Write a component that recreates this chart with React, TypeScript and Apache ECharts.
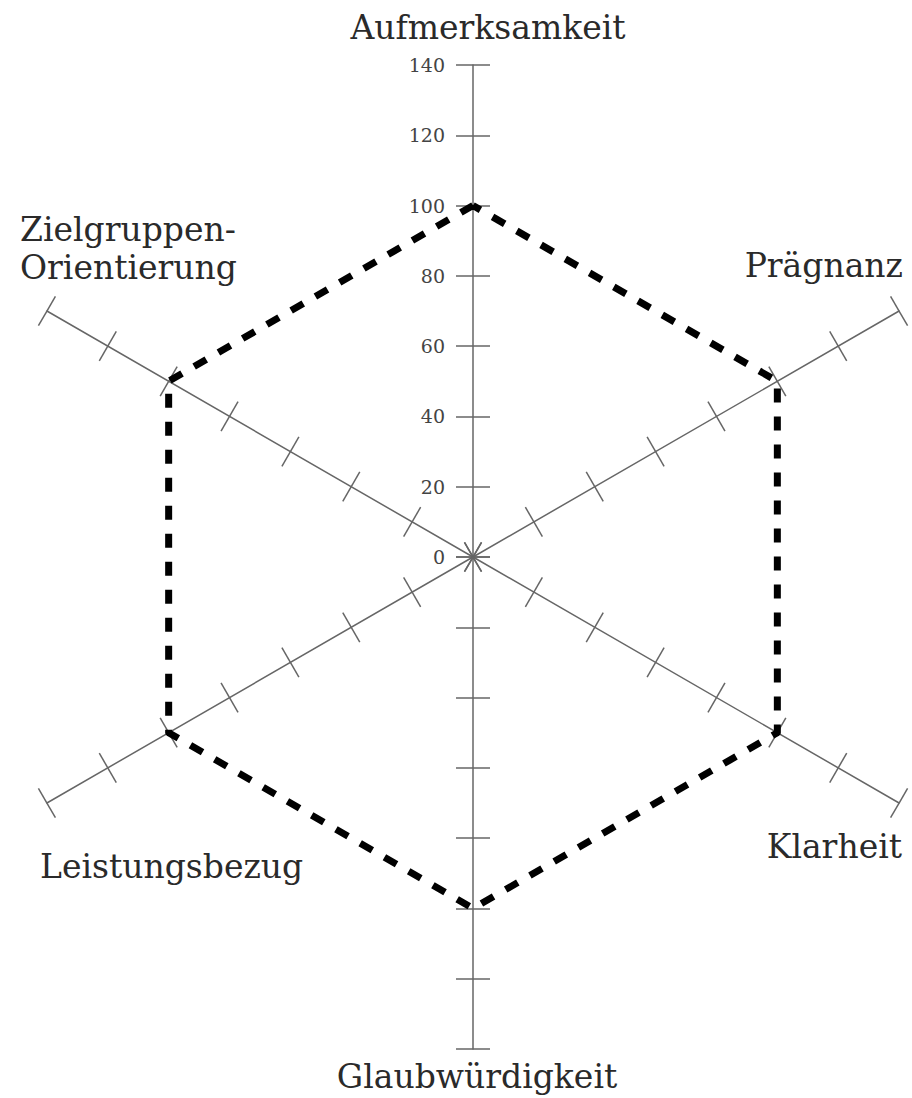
import React, { useEffect, useRef } from "react";
import * as echarts from "echarts";

// Indicators in ECharts order (starting at top, counter-clockwise)
const indicatorNames = [
  "Aufmerksamkeit",
  "Zielgruppen-\nOrientierung",
  "Leistungsbezug",
  "Glaubwürdigkeit",
  "Klarheit",
  "Prägnanz",
];
const indicatorMax = 140;
const splitCount = 7;
const profileValues = [100, 100, 100, 100, 100, 100];

// Name label layout (page px): x, y, align
const nameLayout: [number, number, string][] = [
  [488, 27, "center"],
  [20, 248, "left"],
  [40, 866, "left"],
  [477, 1076, "center"],
  [902, 846, "right"],
  [903, 265, "right"],
];

const CX = 473;
const CY = 557;
const R = 492;

export default function App() {
  const ref = useRef<HTMLDivElement>(null);
  useEffect(() => {
    if (!ref.current) return;
    const chart = echarts.init(ref.current, undefined, { renderer: "svg" });
    const axisLineStyle = { color: "#666", width: 1.5 };
    const labelStyle = {
      showMinLabel: true,
      showMaxLabel: true,
      margin: 28,
      color: "#444",
      fontFamily: "DejaVu Serif",
      fontSize: 19,
    };
    const indicatorsA = indicatorNames.map((n, i) => ({
      name: n,
      max: indicatorMax,
      min: 0,
      axisLabel: i === 0 ? { show: true, ...labelStyle } : { show: false },
    }));
    const indicatorsB = indicatorNames.map((n) => ({
      name: n,
      max: indicatorMax,
      min: 0,
    }));
    const common = {
      center: [CX, CY],
      radius: R,
      startAngle: 90,
      splitNumber: splitCount,
      shape: "polygon",
      splitLine: { show: false },
      splitArea: { show: false },
      axisName: { show: false },
    };
    chart.setOption({
      animation: false,
      backgroundColor: "#fff",
      radar: [
        {
          ...common,
          indicator: indicatorsA,
          axisLine: { show: true, lineStyle: axisLineStyle },
          axisTick: { show: true, length: 17, lineStyle: axisLineStyle },
          axisLabel: { show: false, ...labelStyle },
        },
        {
          ...common,
          indicator: indicatorsB,
          axisLine: { show: false },
          axisTick: { show: true, length: -17, lineStyle: axisLineStyle },
          axisLabel: { show: false },
        },
      ],
      series: [
        {
          type: "radar",
          radarIndex: 0,
          symbol: "none",
          lineStyle: { color: "#000", width: 7, type: [14, 14] },
          areaStyle: { opacity: 0 },
          data: [{ value: profileValues, name: "Profil" }],
        },
      ],
      graphic: indicatorNames.map((n, i) => ({
        type: "text",
        x: nameLayout[i][0],
        y: nameLayout[i][1],
        style: {
          text: n,
          fill: "#2a2a2a",
          font: "33px 'DejaVu Serif'",
          align: nameLayout[i][2],
          verticalAlign: "middle",
          lineHeight: 38,
        },
      })),
    });
    return () => chart.dispose();
  }, []);
  return (
    <div
      ref={ref}
      style={{ position: "absolute", left: 0, top: 0, width: 912, height: 1098 }}
    />
  );
}
